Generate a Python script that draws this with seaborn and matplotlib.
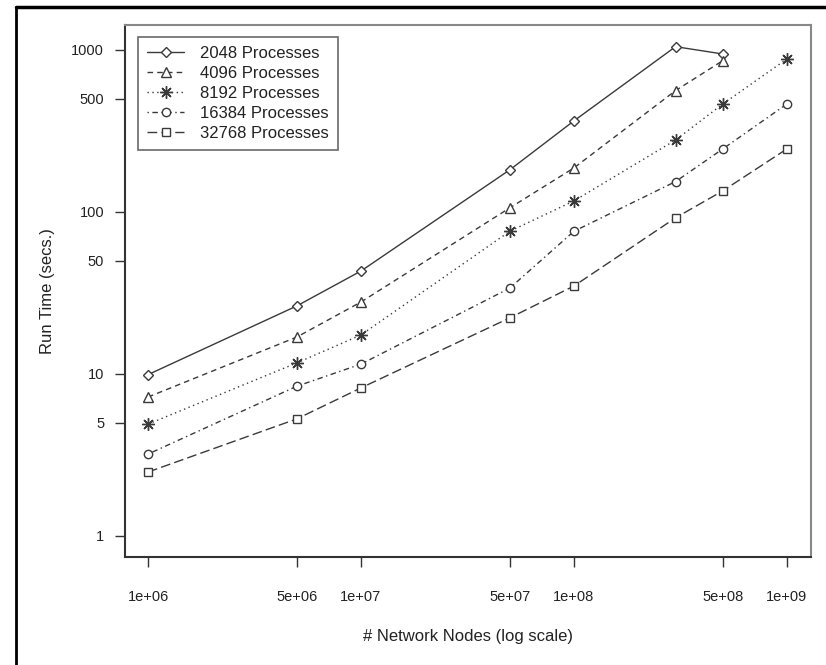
import matplotlib
matplotlib.use("Agg")
import matplotlib.pyplot as plt
import matplotlib.lines as mlines
import seaborn as sns
import pandas as pd

sns.set_theme(style="white")
plt.rcParams['font.family'] = ['Liberation Sans', 'DejaVu Sans']

nodes = [1e6, 5e6, 1e7, 5e7, 1e8, 3e8, 5e8, 1e9]
series_names = ["2048 Processes", "4096 Processes", "8192 Processes",
                "16384 Processes", "32768 Processes"]
t2048 = [9.9, 26.3, 43.2, 182, 365, 1048, 944]
t4096 = [7.2, 16.9, 27.8, 106, 187, 561, 859]
t8192 = [4.9, 11.7, 17.4, 76, 117, 278, 464, 880]
t16384 = [3.2, 8.4, 11.5, 33.9, 76, 154, 245, 464]
t32768 = [2.48, 5.28, 8.2, 22.2, 34.9, 92, 135, 245]
all_times = [t2048, t4096, t8192, t16384, t32768]

xticks = [1e6, 5e6, 1e7, 5e7, 1e8, 5e8, 1e9]
xticklabels = ["1e+06", "5e+06", "1e+07", "5e+07", "1e+08", "5e+08", "1e+09"]
yticks = [1, 5, 10, 50, 100, 500, 1000]
yticklabels = ["1", "5", "10", "50", "100", "500", "1000"]

markers = ["D", "^", (8, 2, 0), "o", "s"]
msizes = [5, 6.5, 9, 6, 5.5]
linestyles = ["-", (0, (4, 3)), (0, (1, 2.5)), (0, (1, 2.5, 4, 2.5)), (0, (7, 3))]
col = "#3a3a3a"

fig = plt.figure(figsize=(8.26, 6.65), dpi=100)
ax = fig.add_axes([125/826, 1-557/665, (811-125)/826, (557-25)/665])

handles = []
for name, ts, mk, ms, ls in zip(series_names, all_times, markers, msizes, linestyles):
    df = pd.DataFrame({"x": nodes[:len(ts)], "y": ts})
    sns.lineplot(data=df, x="x", y="y", ax=ax, color=col, linewidth=1.0,
                 linestyle=ls, marker=mk, markersize=ms, markerfacecolor="white",
                 markeredgecolor=col, markeredgewidth=1.0)
    handles.append(mlines.Line2D([], [], color=col, linewidth=1.0, linestyle=ls,
                                 marker=mk, markersize=ms, markerfacecolor="white",
                                 markeredgecolor=col, markeredgewidth=1.0))

ax.set_xscale("log")
ax.set_yscale("log")
ax.set_xlim(10**5.892, 10**9.113)
ax.set_ylim(10**(-0.13), 10**3.154)
ax.set_xticks(xticks)
ax.set_xticklabels(xticklabels)
ax.set_yticks(yticks)
ax.set_yticklabels(yticklabels)
ax.minorticks_off()
ax.tick_params(axis="both", direction="out", length=7, width=1, color="#333333",
               labelsize=10.5, labelcolor="#222222", bottom=True, left=True)
ax.tick_params(axis="x", pad=17)
ax.tick_params(axis="y", pad=8)
ax.set_xlabel("# Network Nodes (log scale)", fontsize=12, color="#222222", labelpad=18)
ax.set_ylabel("Run Time (secs.)", fontsize=12, color="#222222", labelpad=12)
for s in ["left", "bottom"]:
    ax.spines[s].set_color("#333333")
    ax.spines[s].set_linewidth(1.5)
for s in ["top", "right"]:
    ax.spines[s].set_color("#888888")
    ax.spines[s].set_linewidth(1.5)

leg = ax.legend(handles, series_names, loc="upper left",
                bbox_to_anchor=((138-125)/686, 1-(37-25)/532), borderaxespad=0,
                fontsize=12, frameon=True, fancybox=False, handlelength=2.2,
                borderpad=0.55, labelspacing=0.3, handletextpad=1.0)
leg.get_frame().set_edgecolor("#444444")
leg.get_frame().set_linewidth(1.2)
for t in leg.get_texts():
    t.set_color("#222222")

# outer frame lines (top and left)
fig.add_artist(mlines.Line2D([16/826, 1], [1-7/665, 1-7/665], transform=fig.transFigure,
                             color="black", linewidth=2.5))
fig.add_artist(mlines.Line2D([16/826, 16/826], [0, 1-7/665], transform=fig.transFigure,
                             color="black", linewidth=2.0))

fig.savefig("out.png", dpi=100, facecolor="white")
